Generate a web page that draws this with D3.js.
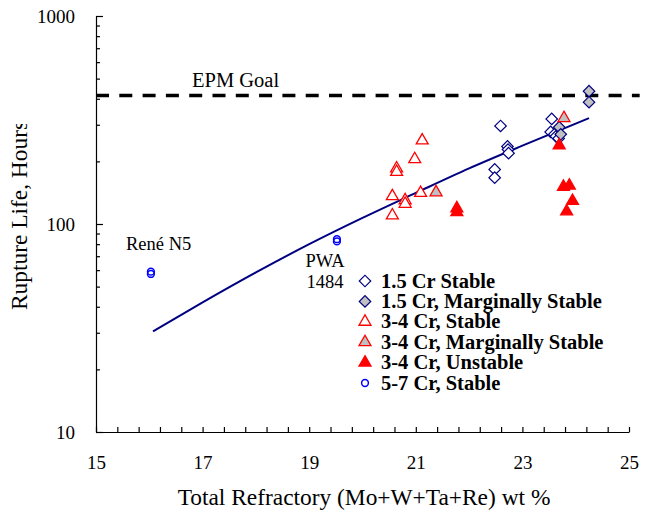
<!DOCTYPE html>
<html>
<head>
<meta charset="utf-8">
<script src="https://cdn.jsdelivr.net/npm/d3@7"></script>
<style>
  body { margin: 0; background: #fff; }
  text { font-family: "Liberation Serif", "Times New Roman", serif; }
</style>
</head>
<body>
<script>
var width = 647;
var height = 515;
var serif = '"Liberation Serif", "Times New Roman", serif';

// data: [wt % refractory, rupture life hours]
var cr15Stable = [[22.59, 296], [22.48, 183], [22.48, 167], [22.72, 236], [22.73, 228], [22.74, 219],
                  [23.55, 320], [23.53, 277], [23.6, 270], [23.63, 264], [23.68, 258]];
var cr15Marginal = [[23.69, 292], [23.72, 270], [24.25, 435], [24.25, 385]];
var cr34Stable = [[21.12, 252], [20.98, 205], [20.64, 185], [20.64, 178], [20.56, 136], [21.09, 141],
                  [20.8, 130], [20.8, 125], [20.56, 110]];
var cr34Marginal = [[21.38, 142], [23.78, 323]];
var cr34Unstable = [[21.77, 119], [21.77, 114], [23.77, 151], [23.88, 153], [23.94, 129], [23.83, 115], [23.69, 239]];
var cr57Stable = [[16.03, 59], [16.03, 57.5], [19.52, 84.5], [19.52, 82.5]];
// trend line, points
var trend = [[16.07, 30.5], [17, 42], [18, 58.5], [19, 80], [20, 107], [21, 141], [22, 185], [23, 238], [24.25, 323]];
var epmGoal = 415;
var xLabels = [15, 17, 19, 21, 23, 25];
var yLabels = [10, 100, 1000];
var legendNames = ["1.5 Cr Stable", "1.5 Cr, Marginally Stable", "3-4 Cr, Stable",
                   "3-4 Cr, Marginally Stable", "3-4 Cr, Unstable", "5-7 Cr, Stable"];

var svg = d3.select("body").append("svg")
    .attr("width", width)
    .attr("height", height);

var x = d3.scaleLinear().domain([15, 25]).range([96, 629]);
var y = d3.scaleLog().domain([10, 1000]).range([432, 16]);

// minor ticks
var xMinor = d3.range(0, 26).map(i => 15 + i * 0.4);
var yMinor = [];
[10, 100].forEach(function(d) { for (var k = 2; k <= 9; k++) yMinor.push(d * k); });

svg.append("g")
  .attr("transform", "translate(0,432)")
  .call(d3.axisBottom(x).tickValues(xMinor).tickSizeInner(-5).tickSizeOuter(0).tickFormat(""))
  .call(g => g.selectAll("line,path").attr("stroke", "#000").attr("stroke-width", 1.2));

svg.append("g")
  .attr("transform", "translate(0,432)")
  .call(d3.axisBottom(x).tickValues(xLabels).tickSize(0).tickPadding(24).tickFormat(d3.format("d")))
  .call(g => g.select(".domain").remove())
  .call(g => g.selectAll("text").attr("font-size", 19).attr("fill", "#000").style("font-family", serif));

svg.append("g")
  .attr("transform", "translate(96,0)")
  .call(d3.axisLeft(y).tickValues(yMinor).tickSizeInner(-4).tickSizeOuter(0).tickFormat(""))
  .call(g => g.selectAll("line,path").attr("stroke", "#000").attr("stroke-width", 1.2));

svg.append("g")
  .attr("transform", "translate(96,0)")
  .call(d3.axisLeft(y).tickValues(yLabels).tickSizeInner(-7).tickSizeOuter(0).tickPadding(21).tickFormat(d3.format("d")))
  .call(g => g.select(".domain").remove())
  .call(g => g.selectAll("line").attr("stroke", "#000").attr("stroke-width", 1.2))
  .call(g => g.selectAll("text").attr("font-size", 19).attr("fill", "#000").style("font-family", serif));

// axis titles
svg.append("text")
  .attr("x", 364).attr("y", 505)
  .attr("text-anchor", "middle")
  .attr("font-size", 23.4)
  .text("Total Refractory (Mo+W+Ta+Re) wt %");

// y title is cut off at the top in the original, clip the last letter
svg.append("clipPath").attr("id", "yclip")
  .append("rect").attr("x", 0).attr("y", 124).attr("width", 60).attr("height", 300);

svg.append("g")
  .attr("clip-path", "url(#yclip)")
  .append("text")
  .attr("transform", "translate(27,310) rotate(-90)")
  .attr("font-size", 23.4)
  .text("Rupture Life, Hours");

// EPM goal
svg.append("line")
  .attr("x1", x(15)).attr("x2", x(25.2))
  .attr("y1", y(epmGoal)).attr("y2", y(epmGoal))
  .attr("stroke", "#000").attr("stroke-width", 3.5)
  .attr("stroke-dasharray", "13,10.3");

svg.append("text")
  .attr("x", 192).attr("y", 87)
  .attr("font-size", 20.5)
  .text("EPM Goal");

// trend line
svg.append("path")
  .datum(trend)
  .attr("fill", "none")
  .attr("stroke", "#000080")
  .attr("stroke-width", 2)
  .attr("d", d3.line().x(d => x(d[0])).y(d => y(d[1])).curve(d3.curveMonotoneX));

var diamond = d3.symbol().type(d3.symbolSquare).size(66);
var triangle = d3.symbol().type(d3.symbolTriangle).size(62);
var circle = d3.symbol().type(d3.symbolCircle).size(36);

var series = [
  {data: cr15Stable, sym: diamond, rot: 45, fill: "#fff", stroke: "#000080", sw: 1.2},
  {data: cr15Marginal, sym: diamond, rot: 45, fill: "#c0c0c0", stroke: "#000080", sw: 1.2},
  {data: cr34Stable, sym: triangle, rot: 0, fill: "#fff", stroke: "#ff0000", sw: 1.3},
  {data: cr34Marginal, sym: triangle, rot: 0, fill: "#c0c0c0", stroke: "#ff0000", sw: 1.3},
  {data: cr34Unstable, sym: triangle, rot: 0, fill: "#ff0000", stroke: "#ff0000", sw: 1.3},
  {data: cr57Stable, sym: circle, rot: 0, fill: "none", stroke: "#0000ff", sw: 1.5}
];

series.forEach(function(s) {
  svg.append("g").selectAll("path")
    .data(s.data)
    .enter().append("path")
    .attr("d", s.sym)
    .attr("transform", d => "translate(" + x(d[0]) + "," + y(d[1]) + ") rotate(" + s.rot + ")")
    .attr("fill", s.fill)
    .attr("stroke", s.stroke)
    .attr("stroke-width", s.sw);
});

// point labels
svg.append("text").attr("x", 126).attr("y", 250).attr("font-size", 18.5).text("René N5");
svg.append("text").attr("x", 325).attr("y", 267).attr("font-size", 18.5).attr("text-anchor", "middle").text("PWA");
svg.append("text").attr("x", 325).attr("y", 288).attr("font-size", 18.5).attr("text-anchor", "middle").text("1484");

// legend
var legend = svg.append("g");
series.forEach(function(s, i) {
  var ly = 281 + i * 20.4;
  legend.append("path")
    .attr("d", s.sym)
    .attr("transform", "translate(365," + ly + ") rotate(" + s.rot + ")")
    .attr("fill", s.fill)
    .attr("stroke", s.stroke)
    .attr("stroke-width", s.sw);
  legend.append("text")
    .attr("x", 381).attr("y", ly + 6.5)
    .attr("font-size", 20.5)
    .attr("font-weight", "bold")
    .text(legendNames[i]);
});
</script>
</body>
</html>
